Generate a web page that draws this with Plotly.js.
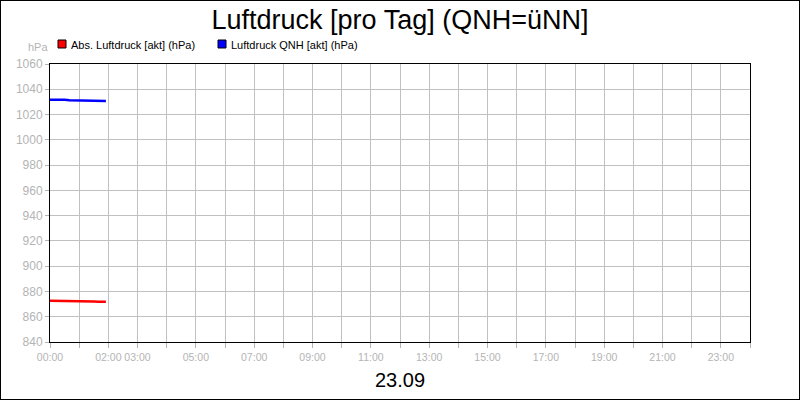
<!DOCTYPE html>
<html>
<head>
<meta charset="utf-8">
<script src="https://cdn.plot.ly/plotly-3.0.1.min.js"></script>
<style>
  html, body { margin: 0; padding: 0; background: #fff; }
  #frame { width: 798px; height: 398px; border: 1px solid #000; }
  #chart { width: 798px; height: 398px; }
</style>
</head>
<body>
<div id="frame"><div id="chart"></div></div>
<script>
// ---- data ----
const chartTitle = "Luftdruck [pro Tag] (QNH=üNN]";
const dayLabel = "23.09";
const unitLabel = "hPa";
const seriesNames = ["Abs. Luftdruck [akt] (hPa)", "Luftdruck QNH [akt] (hPa)"];
const seriesColors = ["#ff0000", "#0000ff"];
const times = ["00:00","00:10","00:20","00:30","00:40","00:50","01:00","01:10","01:20","01:30","01:40","01:50","01:55"];
const absPressure = [872.6, 872.6, 872.5, 872.4, 872.3, 872.2, 872.2, 872.1, 872.0, 872.0, 871.9, 871.9, 871.9];
const qnhPressure = [1031.8, 1031.9, 1031.9, 1031.7, 1031.4, 1031.3, 1031.2, 1031.1, 1031.0, 1030.9, 1030.8, 1030.7, 1030.7];
const hourTicks = [0,1,2,3,4,5,6,7,8,9,10,11,12,13,14,15,16,17,18,19,20,21,22,23,24];
const hourTickText = ["00:00","","02:00","03:00","","05:00","","07:00","","09:00","","11:00","","13:00","","15:00","","17:00","","19:00","","21:00","","23:00",""];
const yRange = [840, 1060];
const yStep = 20;

const toHours = t => { const p = t.split(":"); return (+p[0]) + (+p[1]) / 60; };
const xs = times.map(toHours);

const traces = [absPressure, qnhPressure].map((vals, i) => ({
  x: xs, y: vals, type: "scatter", mode: "lines",
  name: seriesNames[i], showlegend: false,
  line: { color: seriesColors[i], width: 2.5 },
  hoverinfo: "none"
}));

const gray = "#b4b4b4";
const FONT = "Liberation Sans, Arial, sans-serif";

const W = 798, H = 398, L = 49, R = 49, T = 63, B = 57;
const pw = W - L - R, ph = H - T - B;
const px = x => (x - 1 - L) / pw;        // page x -> paper
const py = y => 1 - (y - 1 - T) / ph;    // page y -> paper

const legendX = [58, 218];
const shapes = legendX.map((lx, i) => ({
  type: "rect", xref: "paper", yref: "paper",
  x0: px(lx), x1: px(lx + 8), y0: py(48), y1: py(40),
  fillcolor: seriesColors[i], line: { color: "#000", width: 1 }
}));

const annotations = legendX.map((lx, i) => ({
  xref: "paper", yref: "paper", x: px(lx + 11), y: py(44.5),
  xanchor: "left", yanchor: "middle", showarrow: false,
  text: seriesNames[i], font: { family: FONT, size: 11, color: "#000" }
}));
annotations.push({
  xref: "paper", yref: "paper", x: px(38), y: py(47),
  xanchor: "center", yanchor: "middle", showarrow: false,
  text: unitLabel, font: { family: FONT, size: 11, color: gray }
});
annotations.push({
  xref: "paper", yref: "paper", x: px(400), y: py(380),
  xanchor: "center", yanchor: "middle", showarrow: false,
  text: dayLabel, font: { family: FONT, size: 20, color: "#000" }
});

const layout = {
  width: W, height: H,
  margin: { l: L, r: R, t: T, b: B, pad: 0 },
  paper_bgcolor: "#fff", plot_bgcolor: "#fff",
  title: { text: chartTitle, x: 0.5, xref: "paper", y: 1 - 19 / H, yanchor: "middle",
           font: { family: FONT, size: 27, color: "#000" } },
  font: { family: FONT },
  xaxis: {
    range: [0, 24], tickmode: "array", tickvals: hourTicks, ticktext: hourTickText,
    tickangle: 0,
    showgrid: true, gridcolor: "#c0c0c0", gridwidth: 1,
    showline: true, linecolor: "#000", linewidth: 1, mirror: true,
    ticks: "outside", ticklen: 5, tickcolor: gray,
    tickfont: { family: FONT, size: 10.5, color: gray },
    zeroline: false, fixedrange: true
  },
  yaxis: {
    range: yRange, dtick: yStep, tick0: yRange[0],
    showgrid: true, gridcolor: "#c0c0c0", gridwidth: 1,
    showline: true, linecolor: "#000", linewidth: 1, mirror: true,
    ticks: "outside", ticklen: 4, tickcolor: gray,
    tickfont: { family: FONT, size: 12, color: gray },
    zeroline: false, fixedrange: true
  },
  shapes: shapes,
  annotations: annotations,
  showlegend: false
};

Plotly.newPlot("chart", traces, layout, { displayModeBar: false, staticPlot: true });
</script>
</body>
</html>
